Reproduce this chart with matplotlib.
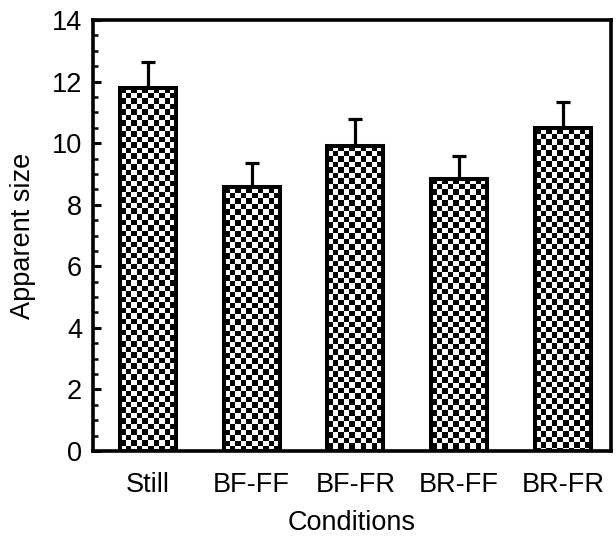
import matplotlib
matplotlib.use('Agg')
import matplotlib.pyplot as plt
import numpy as np

plt.rcParams['font.family'] = ['Liberation Sans', 'DejaVu Sans']

# data
conditions = ['Still', 'BF-FF', 'BF-FR', 'BR-FF', 'BR-FR']
mean_size = [11.80, 8.56, 9.92, 8.84, 10.48]
err_upper = [0.84, 0.80, 0.85, 0.74, 0.86]

fig = plt.figure(figsize=(6.16, 5.37), dpi=100)
ax = fig.add_axes([93 / 616, 1 - 451 / 537, 518 / 616, 431 / 537])

x = np.arange(len(conditions))
bar_w = 0.54
bars = ax.bar(x, mean_size, width=bar_w, facecolor='none',
              edgecolor='black', linewidth=2.9, zorder=3)

# checkerboard fill, clipped to each bar
cw, ch = 0.053, 0.179
for rect in bars:
    x0 = rect.get_x()
    h = rect.get_height()
    ncol = int(np.ceil(bar_w / cw))
    nrow = int(np.ceil(h / ch))
    ii, jj = np.indices((nrow, ncol))
    pat = (ii + jj) % 2
    im = ax.imshow(pat, cmap='gray', interpolation='nearest', aspect='auto',
                   extent=(x0, x0 + ncol * cw, h - nrow * ch, h),
                   origin='upper', zorder=2)
    im.set_clip_path(rect)
ax.set_xlim(-0.53, 4.463)
ax.set_ylim(0, 14)

ax.errorbar(x, mean_size, yerr=[np.zeros(len(x)), err_upper], fmt='none',
            ecolor='black', elinewidth=2.3, capsize=5.3, capthick=2.3, zorder=1)

for s in ax.spines.values():
    s.set_linewidth(2.6)

ax.set_yticks(np.arange(0, 15, 2))
ax.set_yticks(np.arange(0, 14.01, 0.5), minor=True)
ax.tick_params(axis='y', which='major', direction='in', length=6, width=2.2,
               labelsize=19.5, pad=8)
ax.tick_params(axis='y', which='minor', direction='in', length=3.5, width=1.8)
ax.set_xticks(x)
ax.set_xticklabels(conditions)
ax.tick_params(axis='x', length=0, labelsize=19.5, pad=15)

ax.set_xlabel('Conditions', fontsize=19.5, labelpad=9)
ax.set_ylabel('Apparent size', fontsize=19.5, labelpad=11)

fig.savefig('out.png', dpi=100)
